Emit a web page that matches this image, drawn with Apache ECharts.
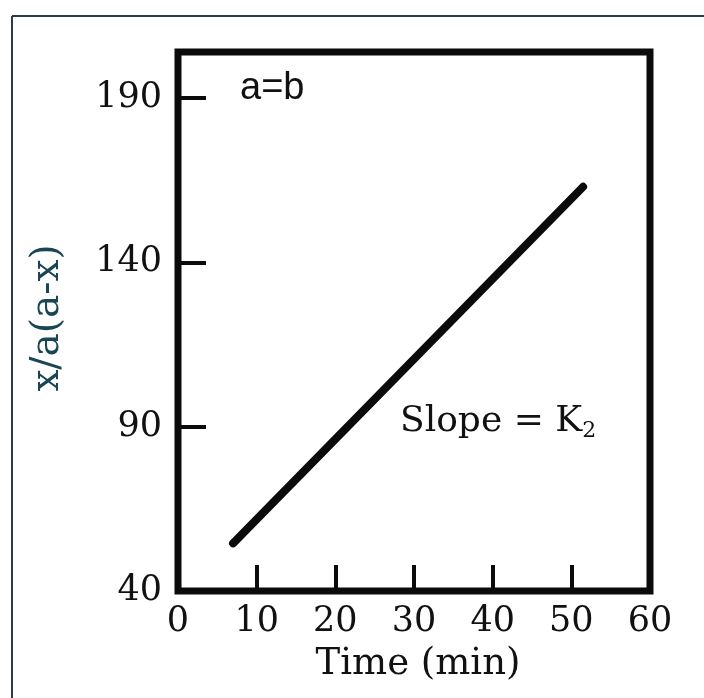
<!DOCTYPE html>
<html>
<head>
<meta charset="utf-8">
<script src="https://cdn.jsdelivr.net/npm/echarts@6/dist/echarts.min.js"></script>
<style>
html,body{margin:0;padding:0;background:#fff;}
#chart{width:704px;height:698px;}
</style>
</head>
<body>
<div id="chart"></div>
<script>
// Data
const xTicks = [0, 10, 20, 30, 40, 50, 60];
const yTicks = [40, 90, 140, 190];
const lineX = [7, 51.5];
const lineY = [54.5, 163];
const xTitle = 'Time (min)';
const yTitle = 'x/a(a-x)';
const noteTop = 'a=b';

const serif = '"DejaVu Serif", "Liberation Serif", serif';
const chart = echarts.init(document.getElementById('chart'));
const pts = lineX.map((x, i) => [x, lineY[i]]);

chart.setOption({
  backgroundColor: '#ffffff',
  animation: false,
  grid: {
    left: 178, right: 54, top: 52, bottom: 107,
    show: true, borderColor: '#0b0b0b', borderWidth: 7, backgroundColor: 'transparent'
  },
  xAxis: {
    type: 'value', min: 0, max: 60, interval: 10,
    axisLine: { show: false },
    axisTick: { show: true, inside: true, length: 26, lineStyle: { color: '#0b0b0b', width: 4 } },
    splitLine: { show: false },
    axisLabel: {
      margin: 13, color: '#111', fontFamily: serif, fontSize: 35,
      formatter: v => xTicks.indexOf(v) >= 0 ? String(v) : ''
    }
  },
  yAxis: {
    type: 'value', min: 40, max: 204, interval: 50,
    axisLine: { show: false },
    axisTick: { show: true, inside: true, length: 28, lineStyle: { color: '#0b0b0b', width: 4 } },
    splitLine: { show: false },
    axisLabel: {
      margin: 16, color: '#111', fontFamily: serif, fontSize: 35,
      showMaxLabel: false,
      formatter: v => yTicks.indexOf(v) >= 0 ? String(v) : ''
    }
  },
  series: [{
    type: 'line', data: pts, symbol: 'none',
    lineStyle: { color: '#0b0b0b', width: 8, cap: 'round' }
  }],
  graphic: [
    { type: 'line', shape: { x1: 12, y1: 16, x2: 704, y2: 16 }, style: { stroke: '#2d3c44', lineWidth: 2 } },
    { type: 'line', shape: { x1: 12, y1: 16, x2: 12, y2: 698 }, style: { stroke: '#2d3c44', lineWidth: 2 } },
    { type: 'text', left: 240, top: 70, style: { text: noteTop, font: '38px "Liberation Sans", Arial, sans-serif', fill: '#111' } },
    { type: 'text', left: 400, top: 404, style: {
        text: 'Slope = K{sub|2}',
        font: '36px ' + serif, fill: '#111',
        rich: { sub: { fontSize: 22, fontFamily: serif, fill: '#111', verticalAlign: 'bottom', padding: [18, 0, 0, 0] } }
      } },
    { type: 'text', x: 48, y: 318, rotation: Math.PI / 2, style: {
        text: yTitle, font: '39px ' + serif, fill: '#1a4654', align: 'center', verticalAlign: 'middle'
      } },
    { type: 'text', x: 418, y: 664, style: {
        text: xTitle, font: '37px ' + serif, fill: '#111', align: 'center', verticalAlign: 'middle'
      } }
  ]
});
</script>
</body>
</html>
